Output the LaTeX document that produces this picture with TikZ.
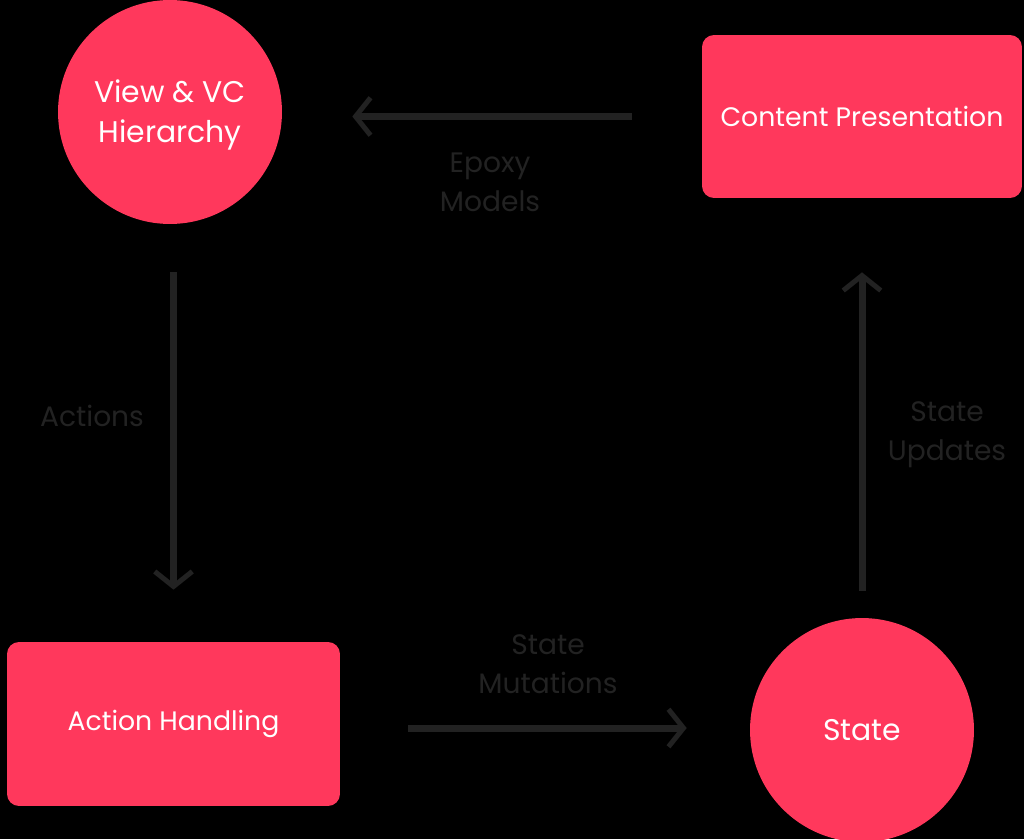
\documentclass[tikz,border=0pt]{standalone}
\usepackage{fontspec}
\setmainfont{Poppins}
\usepackage{xcolor}
\usetikzlibrary{arrows.meta, positioning, calc}

\definecolor{rausch}{HTML}{FF385C}
\definecolor{ink}{HTML}{222222}

\tikzset{
  boxnode/.style={fill=rausch, rounded corners=0.24cm, text=white,
    minimum width=#1, font=\fontsize{15.2}{18}\selectfont},
  roundnode/.style={circle, fill=rausch, text=white, minimum size=4.48cm,
    align=center, font=\fontsize{17}{23}\selectfont, inner sep=0pt},
  flow/.style={draw=ink, line width=0.14cm,
    -{Straight Barb[length=0.3cm, width=0.75cm, line width=0.1cm]}},
  flowlabel/.style={text=ink, align=center, font=\fontsize{16}{22}\selectfont}
}

\begin{document}
\begin{tikzpicture}[x=0.02cm, y=-0.02cm]
\fill[black] (0,0) rectangle (1024,839);
\useasboundingbox (0,0) rectangle (1024,839);

% the four stages
\node[roundnode] (view) at (170,112) {};
\node[roundnode, fill=none] (viewtext) at (170,115) {View \& VC\\Hierarchy};
\node[boxnode=6.4cm, minimum height=3.26cm] (content) at (862,116.5) {Content Presentation};
\node[boxnode=6.66cm, minimum height=3.28cm] (action) at (173.5,724) {Action Handling};
\node[roundnode] (state) at (862,730) {State};

% the loop
\draw[flow, shorten <=1.4cm, shorten >=1.4cm] (content.west) -- (content.west -| view.east);
\draw[flow, shorten <=0.96cm, shorten >=1.04cm] (action.north |- view.south) -- (action.north);
\draw[flow, shorten <=1.36cm, shorten >=1.26cm] (action.east) ++(0,4) coordinate (actout) (actout) -- (actout -| state.west);
\draw[flow, shorten <=0.54cm, shorten >=1.48cm] (state.north) -- (content.south);

% labels
\node[flowlabel] (epoxy) at (490,182) {Epoxy\\Models};
\node[flowlabel] (actions) at (92,416) {Actions};
\node[flowlabel] (mutations) at (548,664) {State\\Mutations};
\node[flowlabel] (updates) at (947,435) {State\\Updates};
\end{tikzpicture}
\end{document}
